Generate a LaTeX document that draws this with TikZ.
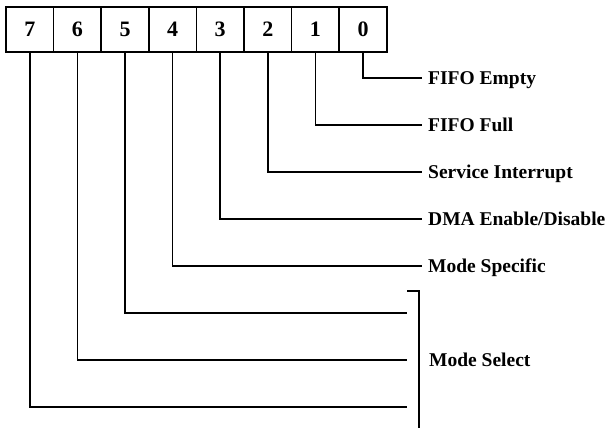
\documentclass[tikz,border=0pt]{standalone}
\usepackage{fontspec}
\setmainfont{Liberation Serif}
\begin{document}
\begin{tikzpicture}[x=1pt,y=-1pt,
  bitbox/.style={draw,line width=1.6pt,minimum width=47.6pt,minimum height=45pt,inner sep=0pt,font=\fontsize{22}{24}\selectfont\bfseries},
  lab/.style={anchor=base west,inner sep=0pt,font=\fontsize{19.5}{22}\selectfont\bfseries},
  wire/.style={line width=1.6pt}]
\useasboundingbox (0,0) rectangle (616,428);
\foreach \i in {0,...,7}{
  \node[bitbox] (b\i) at ({6+23.8+47.6*(7-\i)},29.5) {\i};
}
\node[lab] (l0) at (428,84.5) {FIFO Empty};
\node[lab] (l1) at (428,131.5) {FIFO Full};
\node[lab] (l2) at (428,178.5) {Service Interrupt};
\node[lab] (l3) at (428,225.5) {DMA Enable/Disable};
\node[lab] (l4) at (428,272.5) {Mode Specific};
\node[lab] (ms) at (429,366.5) {Mode Select};
\coordinate (e5) at (407,313);
\coordinate (e6) at (407,360);
\coordinate (e7) at (407,407);
\coordinate (bt) at (407,291);
\coordinate (bc) at (419,291);
\coordinate (bb) at (419,428);
\foreach \i/\y in {0/78,1/125,2/172,3/219,4/266}{
  \draw[wire] (b\i.south) |- ([xshift=-6pt]428,\y);
}
\draw[wire] (b5.south) |- (e5);
\draw[wire] (b6.south) |- (e6);
\draw[wire] (b7.south) |- (e7);
\draw[wire] (bt) -- (bc) -- (bb);
\end{tikzpicture}
\end{document}
